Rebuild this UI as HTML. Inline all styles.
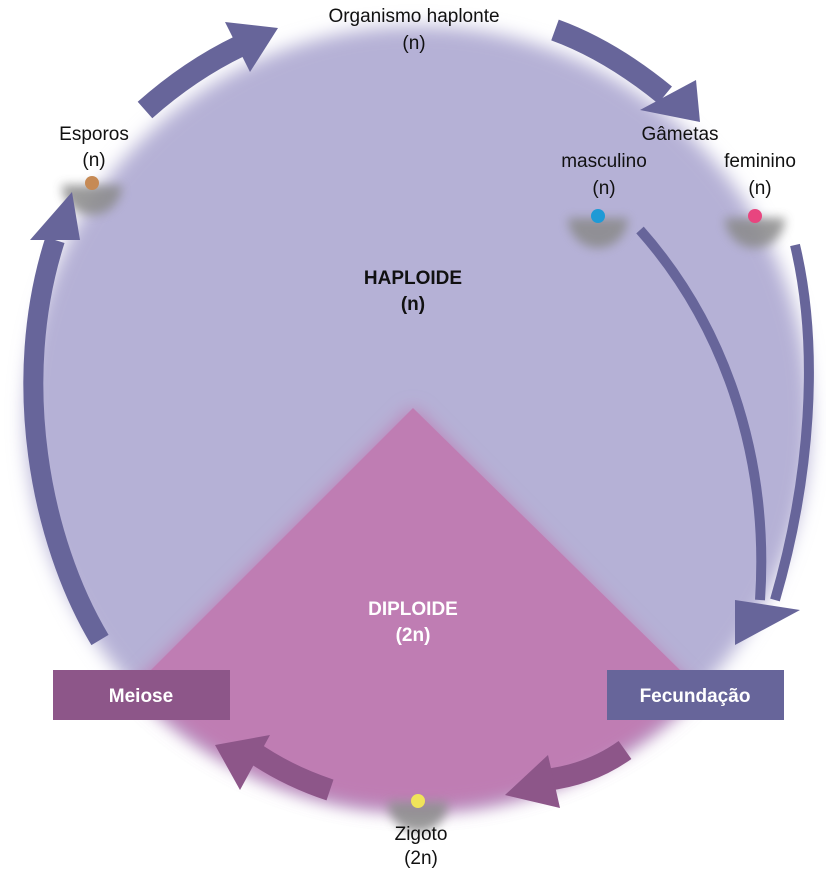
<!DOCTYPE html>
<html><head><meta charset="utf-8"><style>
html,body{margin:0;padding:0;background:#fff;width:826px;height:877px;overflow:hidden;position:relative;}
svg{display:block;position:absolute;left:0;top:0;overflow:hidden}
text{font-family:"Liberation Sans",sans-serif;}
</style></head><body>
<svg width="826" height="877" viewBox="0 0 826 877" xmlns="http://www.w3.org/2000/svg">
<defs>
<filter id="b" x="-10%" y="-10%" width="120%" height="120%"><feGaussianBlur stdDeviation="9"/></filter>
<filter id="s" x="-50%" y="-50%" width="200%" height="200%"><feGaussianBlur stdDeviation="5"/></filter>
<clipPath id="c"><circle cx="418" cy="418" r="392"/></clipPath>
</defs>
<circle cx="418" cy="418" r="392" fill="#b5b1d6" filter="url(#b)"/>
<g filter="url(#b)"><path d="M413,408 L0,821 L826,821 Z" fill="#bf7db3" clip-path="url(#c)"/></g>
<path d="M413,408 L151,670 L680,670 Z" fill="#bf7db3"/>
<g filter="url(#s)" fill="#8a8a8a" opacity="0.85">
<path d="M62,185 A30,30 0 0 0 122,185 Z"/>
<path d="M568,218 A30,30 0 0 0 628,218 Z"/>
<path d="M725,218 A30,30 0 0 0 785,218 Z"/>
<path d="M388,802 A30,30 0 0 0 448,802 Z"/>
</g>
<circle cx="92" cy="183" r="7" fill="#c68a55"/>
<circle cx="598" cy="216" r="7" fill="#1e9ad6"/>
<circle cx="755" cy="216" r="7" fill="#e8457f"/>
<circle cx="418" cy="801" r="7" fill="#f0e45a"/>
<g fill="none" stroke="#67659a">
<path d="M100,640 C40,540 10,380 55,240" stroke-width="20"/>
<path d="M145,110 Q190,70 240,46" stroke-width="22"/>
<path d="M555,30 Q610,50 665,95" stroke-width="22"/>
<path d="M640,230 C720,320 770,450 760,600" stroke-width="10"/>
<path d="M795,245 C820,350 810,480 775,600" stroke-width="10"/>
</g>
<polygon points="30,240 80,240 72,192" fill="#67659a"/>
<polygon points="225,22 278,28 250,72" fill="#67659a"/>
<polygon points="640,110 696,80 700,122" fill="#67659a"/>
<polygon points="735,600 800,610 735,645" fill="#67659a"/>
<g fill="none" stroke="#8d5689" stroke-width="22">
<path d="M625,750 Q590,775 545,780"/>
<path d="M330,790 Q285,775 250,750"/>
</g>
<polygon points="548,755 505,795 560,808" fill="#8d5689"/>
<polygon points="215,745 270,735 240,790" fill="#8d5689"/>
<rect x="53" y="670" width="177" height="50" fill="#8d5689"/>
<rect x="607" y="670" width="177" height="50" fill="#67659a"/>
<g font-size="19" text-anchor="middle">
<text x="141" y="702" fill="#fff" font-weight="bold">Meiose</text>
<text x="695" y="702" fill="#fff" font-weight="bold">Fecundação</text>
<text x="413" y="284" font-weight="bold" fill="#111">HAPLOIDE</text>
<text x="413" y="310" font-weight="bold" fill="#111">(n)</text>
<text x="413" y="615" font-weight="bold" fill="#fff">DIPLOIDE</text>
<text x="413" y="641" font-weight="bold" fill="#fff">(2n)</text>
<text x="414" y="22" fill="#111">Organismo haplonte</text>
<text x="414" y="49" fill="#111">(n)</text>
<text x="94" y="140" fill="#111">Esporos</text>
<text x="94" y="166" fill="#111">(n)</text>
<text x="680" y="140" fill="#111">Gâmetas</text>
<text x="604" y="167" fill="#111">masculino</text>
<text x="604" y="194" fill="#111">(n)</text>
<text x="760" y="167" fill="#111">feminino</text>
<text x="760" y="194" fill="#111">(n)</text>
<text x="421" y="840" fill="#111">Zigoto</text>
<text x="421" y="864" fill="#111">(2n)</text>
</g>
</svg>
</body></html>
